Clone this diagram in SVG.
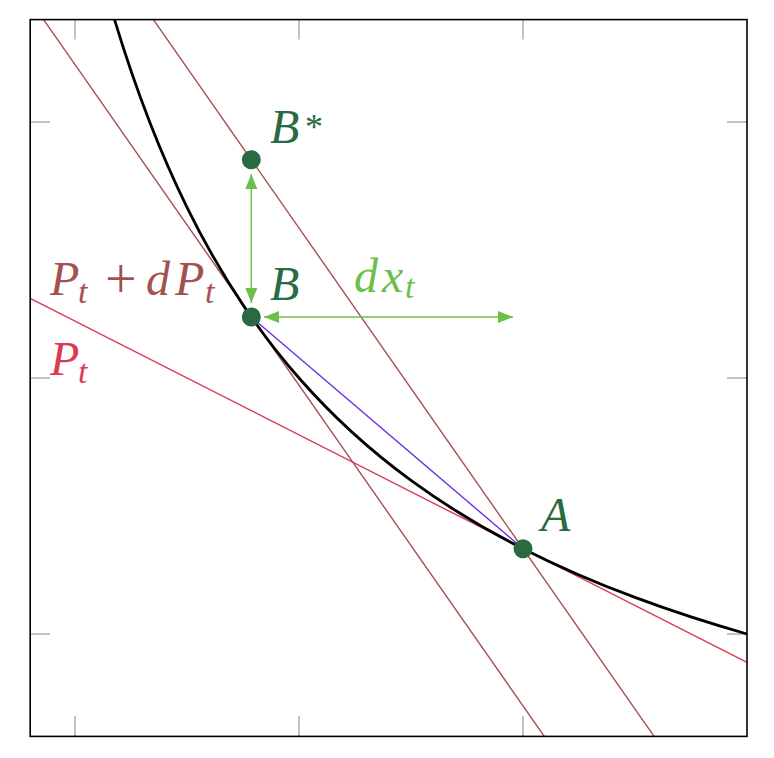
<svg xmlns="http://www.w3.org/2000/svg" width="774" height="758" viewBox="0 0 774 758">
<defs>
<style>
.tick{stroke:#b0b0b0;stroke-width:1.5;fill:none}
.frame{stroke:#000;stroke-width:1.6;fill:none}
.thin{stroke-width:1.4;fill:none}
.brown{stroke:#a3514f}
.lbl{font-family:"Liberation Serif","DejaVu Serif",serif;font-style:italic;font-size:48px}
.sub{font-size:34px}
.dot{fill:#2a6a42}
.garrow{stroke:#6cc04a;stroke-width:1.4;fill:none}
</style>
<marker id="ah" markerUnits="userSpaceOnUse" markerWidth="16" markerHeight="13" refX="15" refY="6" orient="auto-start-reverse">
<path d="M0,0 L15,6 L0,12 z" fill="#6cc04a"/>
</marker>
</defs>
<rect width="774" height="758" fill="#fff"/>
<g id="axes">
<path class="tick" d="M30,122H50M30,378H50M30,634H50M747,122H727M747,378H727M747,634H727M75,736V716M299,736V716M523,736V716M75,19.6V39.6M299,19.6V39.6M523,19.6V39.6"/>
</g>
<g id="connectors">
<line id="pt" class="thin" stroke="#dc3a52" x1="30.2" y1="298.4" x2="747" y2="662.4"/>
<line id="ptdpt" class="thin brown" x1="43.6" y1="19.6" x2="544.3" y2="736.4"/>
<line id="parallel" class="thin brown" x1="153.4" y1="19.6" x2="654.1" y2="736.4"/>
<line id="chord" class="thin" stroke="#6a2fe0" x1="251.3" y1="317" x2="523" y2="548.7"/>
<path id="curve" fill="none" stroke="#000" stroke-width="2.8" d="M114.53,19.6 C126.24,58.28 137.96,91.88 149.67,122 C162.11,154 174.56,182.05 187,207.33 C205.67,245.26 224.33,277 243,304.86 C261.67,332.72 280.33,356.67 299,378 C336.33,420.67 373.67,453.09 411,480.4 C448.33,507.71 485.67,529.71 523,548.67 C560.33,567.63 597.67,583.5 635,597.43 C672.33,611.36 709.67,623.33 747,634"/>
<line id="dPt-arrow" class="garrow" x1="251.3" y1="174" x2="251.3" y2="303" marker-start="url(#ah)" marker-end="url(#ah)"/>
<line id="dx-arrow" class="garrow" x1="264" y1="317" x2="513" y2="317" marker-start="url(#ah)" marker-end="url(#ah)"/>
</g>
<g id="frame"><rect class="frame" x="30.2" y="19.6" width="716.8" height="716.8"/></g>
<g id="A"><circle class="dot" cx="523" cy="548.7" r="9.5"/><text class="lbl" fill="#2a6a42" x="541" y="531">A</text></g>
<g id="B"><circle class="dot" cx="251.3" cy="317" r="9.5"/><text class="lbl" fill="#2a6a42" x="270" y="300">B</text></g>
<g id="Bstar"><circle class="dot" cx="251.3" cy="159.7" r="9.5"/><text class="lbl" fill="#2a6a42" x="270" y="143">B<tspan x="305" y="139" font-style="normal" font-size="36px">*</tspan></text></g>
<g id="label-ptdpt"><text class="lbl" fill="#a3514f"><tspan x="50" y="295">P</tspan><tspan class="sub" x="78" y="303">t</tspan><tspan x="105" y="298" font-style="normal" font-size="56px">+</tspan><tspan x="146" y="295">d</tspan><tspan x="175" y="295">P</tspan><tspan class="sub" x="205" y="303">t</tspan></text></g>
<g id="label-pt"><text class="lbl" fill="#dc3a52"><tspan x="50" y="375">P</tspan><tspan class="sub" x="78" y="383">t</tspan></text></g>
<g id="label-dx"><text class="lbl" fill="#6cc04a"><tspan x="354" y="292">d</tspan><tspan x="382" y="292">x</tspan><tspan class="sub" x="405" y="298">t</tspan></text></g>
</svg>
